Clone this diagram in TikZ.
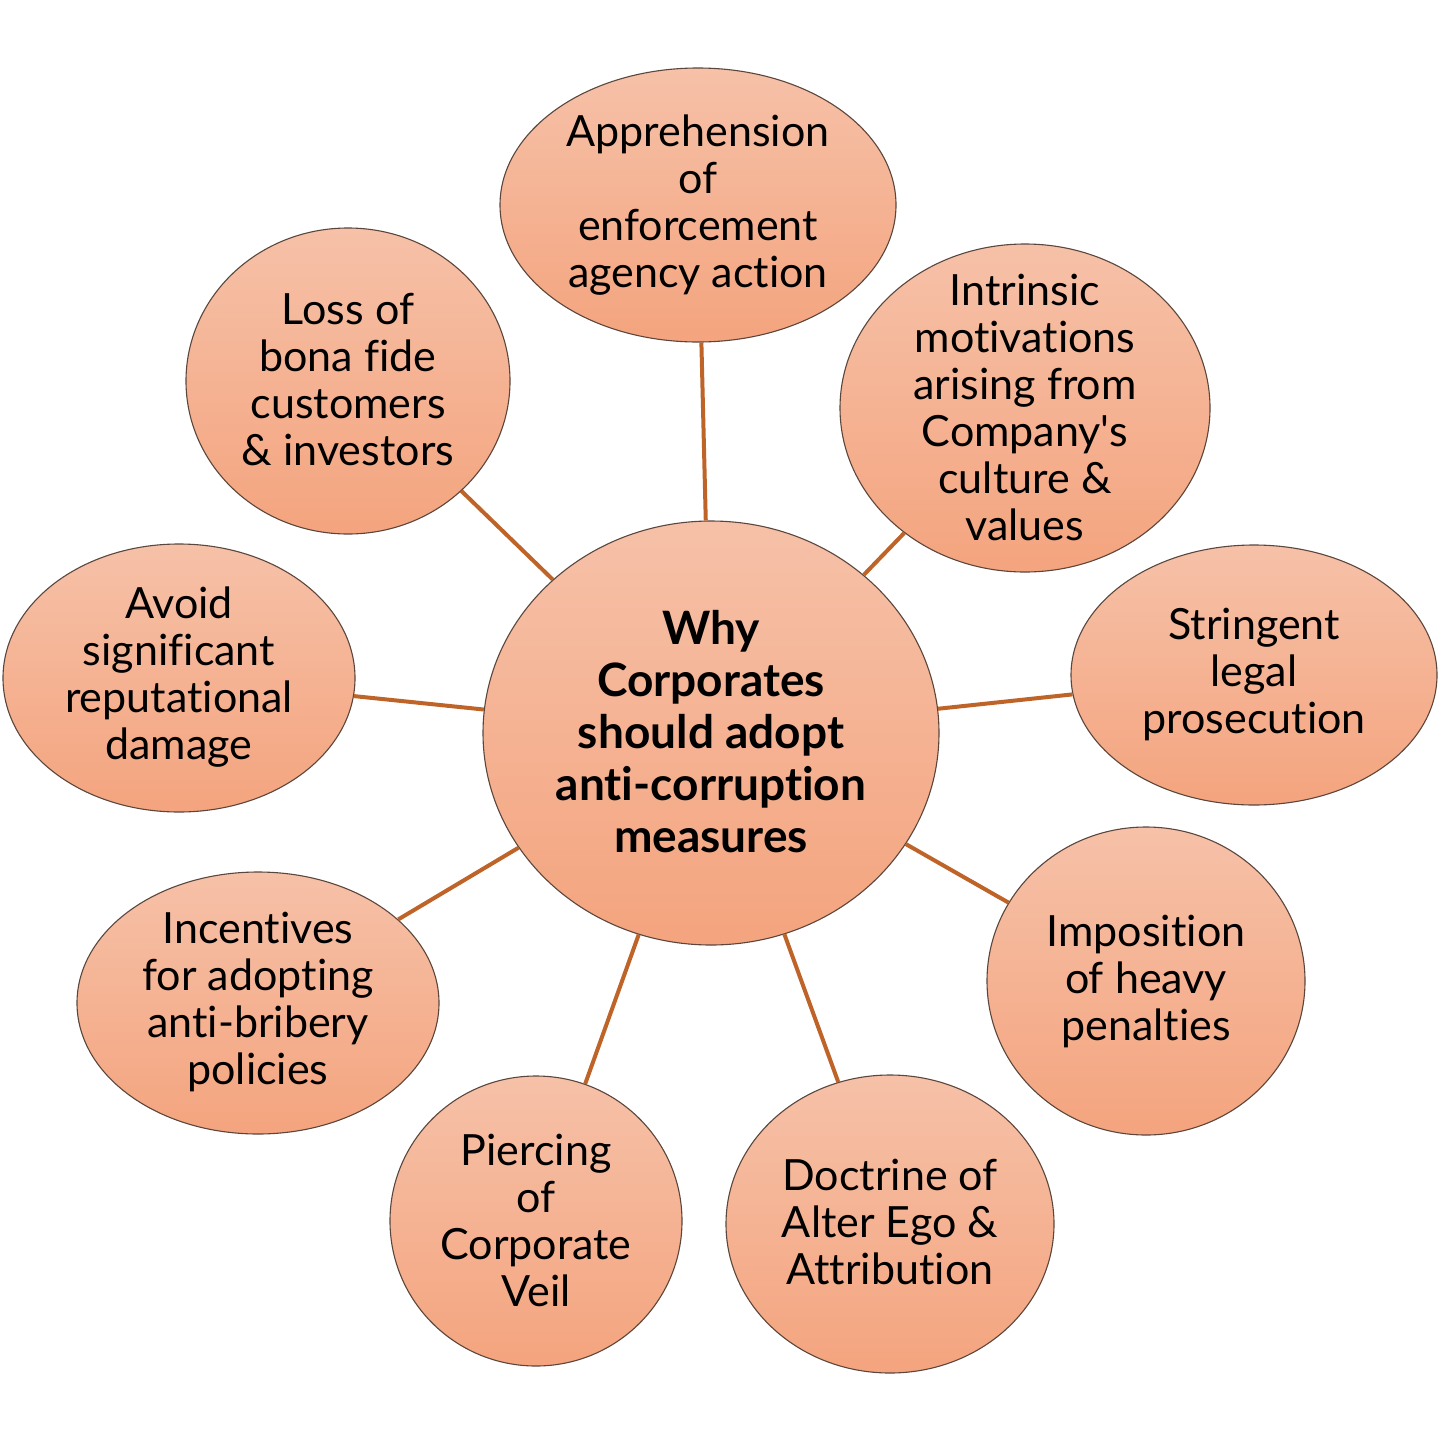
\documentclass[tikz,border=0pt]{standalone}
\usepackage{fontspec}
\setmainfont{Lato}[Ligatures={NoCommon}]
\usetikzlibrary{shapes.geometric}
\definecolor{topc}{HTML}{F6C1A8}
\definecolor{botc}{HTML}{F4A47E}
\definecolor{edgec}{HTML}{5A463C}
\definecolor{linkc}{HTML}{BF6428}
\tikzset{
  bubble/.style={ellipse, draw=edgec, line width=1.1pt, top color=topc, bottom color=botc, inner sep=0pt},
  btext/.style={align=center, font=\fontsize{43}{47}\selectfont, inner sep=0pt},
  ctext/.style={align=center, font=\fontsize{46}{52}\selectfont\bfseries, inner sep=0pt},
  link/.style={draw=linkc, line width=4pt}
}
\begin{document}
\begin{tikzpicture}[x=1pt,y=-1pt]
\useasboundingbox (0,0) rectangle (1441,1446);
\fill[white] (0,0) rectangle (1441,1446);
% bubbles
\node[bubble, minimum width=456pt, minimum height=424pt] (C) at (711,733) {};
\node[bubble, minimum width=396pt, minimum height=274pt] (A) at (698,205) {};
\node[bubble, minimum width=324pt, minimum height=306pt] (L) at (348,381) {};
\node[bubble, minimum width=370pt, minimum height=328pt] (I) at (1025,408) {};
\node[bubble, minimum width=352pt, minimum height=268pt] (V) at (179,678) {};
\node[bubble, minimum width=366pt, minimum height=260pt] (S) at (1254,675) {};
\node[bubble, minimum width=362pt, minimum height=262pt] (N) at (258,1003) {};
\node[bubble, minimum width=318pt, minimum height=308pt] (P) at (1146,981) {};
\node[bubble, minimum width=292pt, minimum height=290pt] (R) at (536,1221) {};
\node[bubble, minimum width=328pt, minimum height=298pt] (D) at (890,1224) {};
% links
\foreach \t in {A,L,I,V,S,N,P,R,D} \draw[link] (C) -- (\t);
% texts
\node[ctext] (tC) at (711,732) {Why\\Corporates\\should adopt\\anti-corruption\\measures};
\node[btext] (tA) at (698,205) {Apprehension\\of\\enforcement\\agency action};
\node[btext] (tL) at (348,380) {Loss of\\bona fide\\customers\\\& investors};
\node[btext] (tI) at (1025,407) {Intrinsic\\motivations\\arising from\\Company\textquotesingle s\\culture \&\\values};
\node[btext] (tV) at (179,677) {Avoid\\significant\\reputational\\damage};
\node[btext] (tS) at (1254,674) {Stringent\\legal\\prosecution};
\node[btext] (tN) at (258,1002) {Incentives\\for adopting\\anti-bribery\\policies};
\node[btext] (tP) at (1146,981) {Imposition\\of heavy\\penalties};
\node[btext] (tR) at (536,1220) {Piercing\\of\\Corporate\\Veil};
\node[btext] (tD) at (890,1222) {Doctrine of\\Alter Ego \&\\Attribution};
\end{tikzpicture}
\end{document}
